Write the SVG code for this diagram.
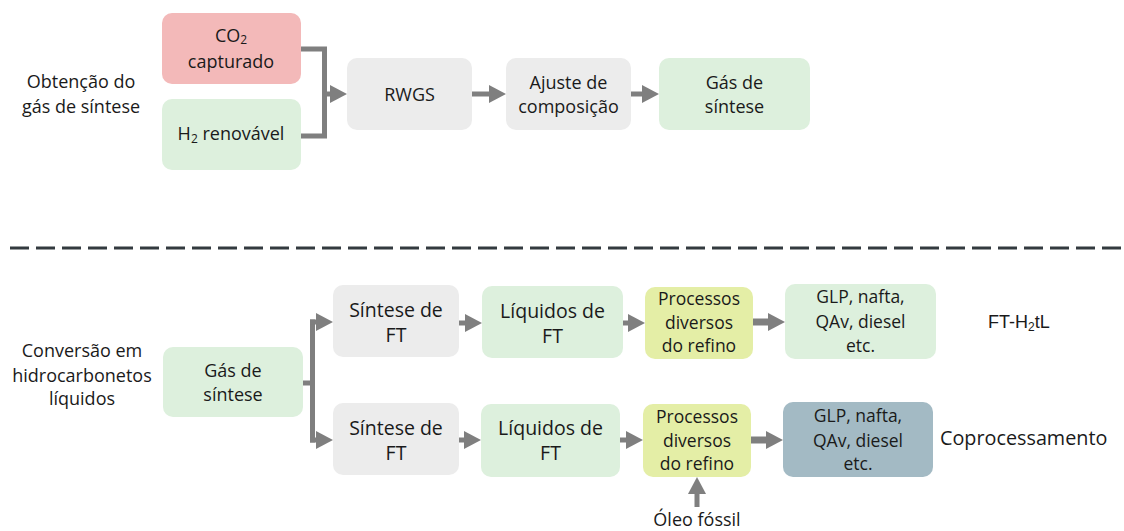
<svg xmlns="http://www.w3.org/2000/svg" width="1124" height="531" viewBox="0 0 1124 531">
  <style>
    .box { stroke: none; }
    .red { fill: #f3b9b9; }
    .green { fill: #ddf0dd; }
    .grey { fill: #ececec; }
    .yellow { fill: #e4eea6; }
    .slate { fill: #a3bac4; }
    text { font-family: "Open Sans", "Liberation Sans", sans-serif; fill: #1a1a1a; text-anchor: middle; }
    .t18 { font-size: 18px; }
    .t19 { font-size: 19.5px; }
    .t17 { font-size: 17.5px; }
    .lbl { font-size: 18px; }
    .ftl { font-family: "Liberation Sans", Arial, sans-serif; font-size: 18px; text-anchor: start; }
    .cop { font-size: 19.8px; text-anchor: start; }
    .sub { font-size: 12px; }
    .conn { fill: none; stroke: #7f7f7f; stroke-width: 5; stroke-linejoin: miter; }
    .thick { stroke-width: 7; }
  </style>
  <defs>
    <marker id="head" markerUnits="userSpaceOnUse" markerWidth="17" markerHeight="18" refX="0" refY="9" orient="auto" overflow="visible">
      <path d="M0,0 L17,9 L0,18 Z" fill="#7f7f7f"/>
    </marker>
  </defs>

  <rect width="1124" height="531" fill="#ffffff"/>

  <!-- section labels -->
  <g id="label-obtencao">
    <text class="lbl" x="81" y="88">Obtenção do</text>
    <text class="lbl" x="81" y="113">gás de síntese</text>
  </g>
  <g id="label-conversao">
    <text class="lbl" x="82" y="357">Conversão em</text>
    <text class="lbl" x="82" y="382">hidrocarbonetos</text>
    <text class="lbl" x="82" y="405">líquidos</text>
  </g>

  <!-- section divider -->
  <line x1="10" y1="248" x2="1124" y2="248" stroke="#333a3f" stroke-width="3" stroke-dasharray="19 7"/>

  <!-- upper section: syngas production -->
  <g id="co2">
    <rect class="box red" x="162" y="13" width="139" height="71" rx="10"/>
    <text class="t18" x="231" y="42">CO<tspan class="sub" dy="2">2</tspan></text>
    <text class="t18" x="231" y="68">capturado</text>
  </g>
  <g id="h2">
    <rect class="box green" x="162" y="99" width="139" height="71" rx="10"/>
    <text class="t18" x="231" y="140">H<tspan class="sub" dy="3">2</tspan><tspan dy="-3"> renovável</tspan></text>
  </g>
  <g id="rwgs">
    <rect class="box grey" x="347" y="58" width="125" height="72" rx="10"/>
    <text class="t18" x="409.5" y="101">RWGS</text>
  </g>
  <g id="ajuste">
    <rect class="box grey" x="506" y="58" width="125" height="72" rx="10"/>
    <text class="t18" x="568.5" y="89">Ajuste de</text>
    <text class="t18" x="568.5" y="113">composição</text>
  </g>
  <g id="gas-top">
    <rect class="box green" x="659" y="58" width="151" height="72" rx="10"/>
    <text class="t18" x="734.5" y="89">Gás de</text>
    <text class="t18" x="734.5" y="113">síntese</text>
  </g>

  <!-- lower section: conversion to liquid hydrocarbons -->
  <g id="gas-bottom">
    <rect class="box green" x="163" y="347" width="140" height="70" rx="10"/>
    <text class="t18" x="233" y="377">Gás de</text>
    <text class="t18" x="233" y="401">síntese</text>
  </g>
  <g id="ft-1">
    <rect class="box grey" x="333" y="285" width="126" height="72" rx="10"/>
    <text class="t19" x="396" y="317">Síntese de</text>
    <text class="t19" x="396" y="342">FT</text>
  </g>
  <g id="ft-2">
    <rect class="box grey" x="333" y="403" width="126" height="72" rx="10"/>
    <text class="t19" x="396" y="435">Síntese de</text>
    <text class="t19" x="396" y="460">FT</text>
  </g>
  <g id="liq-1">
    <rect class="box green" x="482" y="286" width="141" height="72" rx="10"/>
    <text class="t19" x="552.5" y="318">Líquidos de</text>
    <text class="t19" x="552.5" y="343">FT</text>
  </g>
  <g id="liq-2">
    <rect class="box green" x="481" y="404" width="139" height="73" rx="10"/>
    <text class="t19" x="550.5" y="435">Líquidos de</text>
    <text class="t19" x="550.5" y="460">FT</text>
  </g>
  <g id="refino-1">
    <rect class="box yellow" x="645" y="287" width="108" height="72" rx="10"/>
    <text class="t17" x="699" y="305">Processos</text>
    <text class="t17" x="699" y="329">diversos</text>
    <text class="t17" x="699" y="352">do refino</text>
  </g>
  <g id="refino-2">
    <rect class="box yellow" x="643" y="404" width="108" height="73" rx="10"/>
    <text class="t17" x="697" y="423">Processos</text>
    <text class="t17" x="697" y="447">diversos</text>
    <text class="t17" x="697" y="470">do refino</text>
  </g>
  <g id="produtos-1">
    <rect class="box green" x="785" y="284" width="151" height="75" rx="10"/>
    <text class="t17" x="860.5" y="303">GLP, nafta,</text>
    <text class="t17" x="860.5" y="328">QAv, diesel</text>
    <text class="t17" x="860.5" y="352">etc.</text>
  </g>
  <g id="produtos-2">
    <rect class="box slate" x="783" y="402" width="150" height="75" rx="10"/>
    <text class="t17" x="858" y="422">GLP, nafta,</text>
    <text class="t17" x="858" y="447">QAv, diesel</text>
    <text class="t17" x="858" y="470">etc.</text>
  </g>
  <g id="route-ft-h2tl">
    <text class="ftl" x="988" y="328">FT-H<tspan class="sub" dy="3">2</tspan><tspan dy="-3">tL</tspan></text>
  </g>
  <g id="route-coprocessamento">
    <text class="cop" x="940" y="445">Coprocessamento</text>
  </g>
  <g id="oleo-fossil">
    <text class="t18" x="697" y="526">Óleo fóssil</text>
  </g>

  <!-- connectors -->
  <g id="connectors">
    <path class="conn" d="M301,49 H324.5 V136 H301"/>
    <path class="conn" d="M324.5,94 H330" marker-end="url(#head)"/>
    <path class="conn" d="M472,94 H489" marker-end="url(#head)"/>
    <path class="conn" d="M631,94 H642" marker-end="url(#head)"/>

    <path class="conn" d="M303,383 H312.5"/>
    <path class="conn" d="M312.5,319.5 V442.5"/>
    <path class="conn" d="M310,322 H316" marker-end="url(#head)"/>
    <path class="conn" d="M310,440 H316" marker-end="url(#head)"/>

    <path class="conn" d="M459,323 H465" marker-end="url(#head)"/>
    <path class="conn" d="M459,440 H464" marker-end="url(#head)"/>
    <path class="conn" d="M623,323 H628" marker-end="url(#head)"/>
    <path class="conn" d="M620,440 H626" marker-end="url(#head)"/>
    <path class="conn thick" d="M753,322 H768" marker-end="url(#head)"/>
    <path class="conn thick" d="M751,440 H766" marker-end="url(#head)"/>
    <path class="conn" d="M697,507 V494" marker-end="url(#head)"/>
  </g>
</svg>
